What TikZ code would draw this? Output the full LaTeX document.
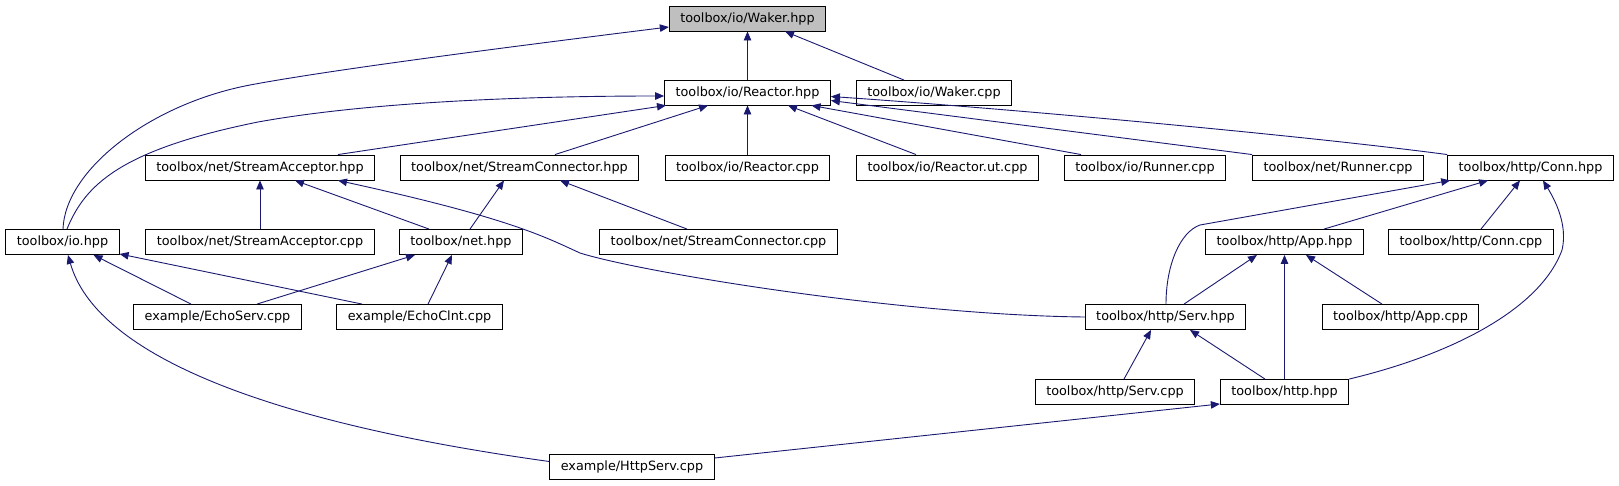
\documentclass[tikz,border=0pt]{standalone}
\usepackage{fontspec}
\setmainfont{DejaVu Sans}
\usetikzlibrary{arrows.meta}
\definecolor{edgec}{HTML}{191970}
\definecolor{curfill}{HTML}{BFBFBF}
\tikzset{
  box/.style={draw=black, line width=0.9pt, fill=white, minimum height=25pt,
    inner xsep=11pt, inner ysep=0pt, font=\fontsize{12.8}{15}\selectfont},
  cur/.style={box, fill=curfill},
  edge/.style={draw=edgec, line width=0.9pt, -{Triangle[length=9pt,width=7.5pt]}}
}
\begin{document}
\begin{tikzpicture}[x=1pt,y=-1pt]
\useasboundingbox (0,0) rectangle (1619,485);
% nodes
\node[cur] (waker) at (747.5,18.5) {toolbox/io/Waker.hpp};
\node[box] (reactor) at (747.5,92.5) {toolbox/io/Reactor.hpp};
\node[box] (wakercpp) at (934,93) {toolbox/io/Waker.cpp};
\node[box] (sacc) at (260,167.5) {toolbox/net/StreamAcceptor.hpp};
\node[box] (scon) at (519.5,167.5) {toolbox/net/StreamConnector.hpp};
\node[box] (reactorcpp) at (747.5,167.5) {toolbox/io/Reactor.cpp};
\node[box] (reactorut) at (947.5,167.5) {toolbox/io/Reactor.ut.cpp};
\node[box] (runner) at (1145,167.5) {toolbox/io/Runner.cpp};
\node[box] (netrunner) at (1338,167.5) {toolbox/net/Runner.cpp};
\node[box] (conn) at (1530.5,167.5) {toolbox/http/Conn.hpp};
\node[box] (iohpp) at (62.5,242) {toolbox/io.hpp};
\node[box] (saccpp) at (260,242) {toolbox/net/StreamAcceptor.cpp};
\node[box] (nethpp) at (461,242) {toolbox/net.hpp};
\node[box] (sconcpp) at (718.5,242) {toolbox/net/StreamConnector.cpp};
\node[box] (apphpp) at (1284.5,242) {toolbox/http/App.hpp};
\node[box] (conncpp) at (1471,242) {toolbox/http/Conn.cpp};
\node[box] (echoserv) at (217.5,317) {example/EchoServ.cpp};
\node[box] (echoclnt) at (419.5,317) {example/EchoClnt.cpp};
\node[box] (servhpp) at (1165.5,317) {toolbox/http/Serv.hpp};
\node[box] (appcpp) at (1400.5,317) {toolbox/http/App.cpp};
\node[box] (servcpp) at (1115,392) {toolbox/http/Serv.cpp};
\node[box] (httphpp) at (1284.5,392) {toolbox/http.hpp};
\node[box] (httpserv) at (632,466.5) {example/HttpServ.cpp};
% edges
\draw[edge] ([xshift=0.5pt]iohpp.north) .. controls (65,170) and (150,104) .. (250,85)
  .. controls (330,70) and (500,48) .. ([yshift=-8.5pt]waker.west);
\draw[edge] ([xshift=4.5pt]iohpp.north) .. controls (85,185) and (120,150) .. (258,122)
  .. controls (380,100) and (550,96) .. ([yshift=-3.5pt]reactor.west);
\draw[edge] (reactor.north) -- (waker.south);
\draw[edge] ([xshift=-30pt]wakercpp.north) -- ([xshift=37.5pt]waker.south);
\draw[edge] ([xshift=78pt]sacc.north) -- ([xshift=-81.5pt]reactor.south);
\draw[edge] ([xshift=35.5pt]scon.north) -- ([xshift=-39.5pt]reactor.south);
\draw[edge] (reactorcpp.north) -- (reactor.south);
\draw[edge] ([xshift=-31.5pt]reactorut.north) -- ([xshift=40.5pt]reactor.south);
\draw[edge] ([xshift=-64pt]runner.north) -- ([xshift=64pt]reactor.south);
\draw[edge] (netrunner.north west) -- ([yshift=-8pt]reactor.east);
\draw[edge] (conn.north west) .. controls (1300,135) and (1000,108) .. ([yshift=-4pt]reactor.east);
\draw[edge] (saccpp.north) -- (sacc.south);
\draw[edge] ([xshift=-32pt]nethpp.north) -- ([xshift=35pt]sacc.south);
\draw[edge] ([xshift=9pt]nethpp.north) -- ([xshift=-15.5pt]scon.south);
\draw[edge] ([xshift=-31.5pt]sconcpp.north) -- ([xshift=40.5pt]scon.south);
\draw[edge] (servhpp.west) .. controls (900,315) and (640,272) .. (580,253)
  .. controls (545,237) and (510,218) .. ([xshift=78pt]sacc.south);
\draw[edge] ([xshift=-26.5pt]echoserv.north) -- ([xshift=31pt]iohpp.south);
\draw[edge] ([xshift=39.5pt]echoserv.north) -- ([xshift=-46pt]nethpp.south);
\draw[edge] ([xshift=-57.5pt]echoclnt.north) -- ([yshift=1pt]iohpp.south east);
\draw[edge] ([xshift=8.5pt]echoclnt.north) -- ([xshift=-9pt]nethpp.south);
\draw[edge] ([yshift=5pt]httpserv.west) .. controls (250,420) and (95,350) .. ([xshift=5.5pt]iohpp.south);
\draw[edge] ([yshift=8.5pt]httpserv.east) -- ([yshift=1pt]httphpp.south west);
\draw[edge] ([xshift=0.5pt]servhpp.north) .. controls (1166,265) and (1180,232) .. (1200,225)
  -- ([xshift=3pt]conn.south west);
\draw[edge] ([xshift=39.5pt]apphpp.north) -- ([xshift=-42.5pt]conn.south);
\draw[edge] ([xshift=10pt]conncpp.north) -- ([xshift=-10.5pt]conn.south);
\draw[edge] (httphpp.north east) .. controls (1450,355) and (1540,310) .. (1562,250)
  .. controls (1568,225) and (1555,200) .. ([xshift=12.5pt]conn.south);
\draw[edge] ([xshift=18.5pt]servhpp.north) -- ([xshift=-27.5pt]apphpp.south);
\draw[edge] (httphpp.north) -- (apphpp.south);
\draw[edge] ([xshift=-18.5pt]appcpp.north) -- ([xshift=21.5pt]apphpp.south);
\draw[edge] ([xshift=9pt]servcpp.north) -- ([xshift=-14.5pt]servhpp.south);
\draw[edge] ([xshift=-19.5pt]httphpp.north) -- ([xshift=24.5pt]servhpp.south);
\end{tikzpicture}
\end{document}
